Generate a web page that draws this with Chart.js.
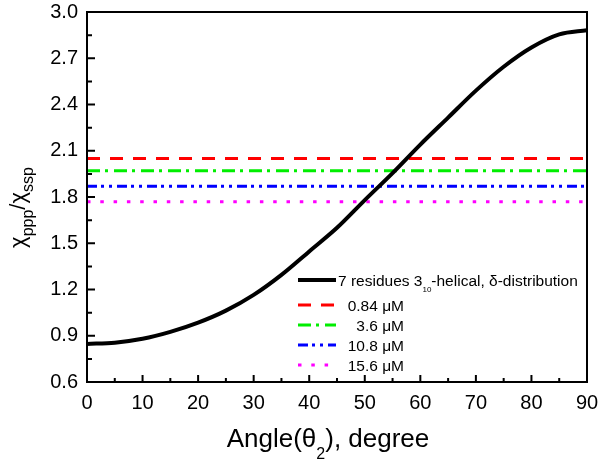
<!DOCTYPE html>
<html><head><meta charset="utf-8">
<script src="https://cdn.jsdelivr.net/npm/chart.js@4.4.0/dist/chart.umd.min.js"></script>
<style>html,body{margin:0;padding:0;background:#fff}#wrap{width:600px;height:464px;position:relative}</style>
</head><body><div id="wrap"><canvas id="c"></canvas></div>
<script>
// ---- data ----
const angles = [0,5,10,15,20,25,30,35,40,45,50,55,60,65,70,75,80,85,90];
const curveValues = [0.847,0.855,0.880,0.925,0.985,1.063,1.165,1.295,1.447,1.600,1.780,1.955,2.140,2.315,2.490,2.645,2.770,2.855,2.882];
const curveLabel = '7 residues 3_{10}-helical, δ-distribution';
const concLabels = ['0.84 μM','3.6 μM','10.8 μM','15.6 μM'];
const concLevels = [2.05,1.97,1.87,1.77];
const xTicks = [0,10,20,30,40,50,60,70,80,90];
const yTicks = [0.6,0.9,1.2,1.5,1.8,2.1,2.4,2.7,3.0];
const xTitle = 'Angle(θ_{2}), degree';
const yTitle = 'χ_{ppp}/χ_{ssp}';

// ---- styles ----
const FAM = '"Liberation Sans", Arial, sans-serif';
const concColors = ['#ff0000','#00ee00','#0000ff','#ff00ff'];
const concDashes = [[13,10],[13,5,3,6],[10,4,3,5,3,5],[3.5,9.8]];

function parseRich(s){
  const parts=[]; const re=/_\{([^}]*)\}/g; let last=0,m;
  while((m=re.exec(s))){ if(m.index>last) parts.push({t:s.slice(last,m.index),sub:false}); parts.push({t:m[1],sub:true}); last=re.lastIndex; }
  if(last<s.length) parts.push({t:s.slice(last),sub:false});
  return parts;
}
function richWidth(ctx,parts,size,subSize){
  let w=0; for(const p of parts){ ctx.font=(p.sub?subSize:size)+'px '+FAM; w+=ctx.measureText(p.t).width; } return w;
}
function drawRich(ctx,parts,x,y,size,subSize,subDy){
  let cx=x; for(const p of parts){ ctx.font=(p.sub?subSize:size)+'px '+FAM; ctx.fillText(p.t,cx,y+(p.sub?subDy:0)); cx+=ctx.measureText(p.t).width; }
}

const datasets = [{
  label: curveLabel,
  data: angles.map((a,i)=>({x:a,y:curveValues[i]})),
  borderColor:'#000', borderWidth:4, pointRadius:0, cubicInterpolationMode:'monotone', fill:false
}];
concLevels.forEach((lv,i)=>{
  datasets.push({
    label: concLabels[i],
    data: [{x:xTicks[0],y:lv},{x:xTicks[xTicks.length-1],y:lv}],
    borderColor: concColors[i], borderWidth:3, borderDash: concDashes[i], pointRadius:0, fill:false
  });
});

const decor = {
  id:'decor',
  afterDraw(chart){
    const ctx=chart.ctx, a=chart.chartArea, xs=chart.scales.x, ys=chart.scales.y;
    ctx.save();
    ctx.strokeStyle='#000'; ctx.lineWidth=2; ctx.setLineDash([]);
    ctx.beginPath();
    for(let i=0;i<xTicks.length;i++){
      const v=xTicks[i]; const px=xs.getPixelForValue(v);
      if(i>0 && i<xTicks.length-1){ ctx.moveTo(px,a.bottom); ctx.lineTo(px,a.bottom-7); }
      if(i<xTicks.length-1){ const mp=xs.getPixelForValue((v+xTicks[i+1])/2); ctx.moveTo(mp,a.bottom); ctx.lineTo(mp,a.bottom-4); }
    }
    for(let i=0;i<yTicks.length;i++){
      const v=yTicks[i]; const py=ys.getPixelForValue(v);
      if(i>0 && i<yTicks.length-1){ ctx.moveTo(a.left,py); ctx.lineTo(a.left+8,py); }
      if(i<yTicks.length-1){ const mp=ys.getPixelForValue((v+yTicks[i+1])/2); ctx.moveTo(a.left,mp); ctx.lineTo(a.left+5,mp); }
    }
    ctx.stroke();
    ctx.strokeRect(a.left,a.top,a.right-a.left,a.bottom-a.top);

    ctx.fillStyle='#000'; ctx.textBaseline='alphabetic'; ctx.textAlign='left';
    const xp=parseRich(xTitle); const xw=richWidth(ctx,xp,26,16);
    drawRich(ctx,xp,328-xw/2,447,26,16,12);
    const yp=parseRich(yTitle); const yw=richWidth(ctx,yp,22,16);
    ctx.save(); ctx.translate(25,207.5); ctx.rotate(-Math.PI/2);
    drawRich(ctx,yp,-yw/2,0,22,16,8);
    ctx.restore();

    const rows=[280,305,325,345,365];
    chart.data.datasets.forEach((ds,i)=>{
      const y=rows[i];
      ctx.save();
      ctx.strokeStyle=ds.borderColor; ctx.lineWidth=ds.borderWidth; ctx.setLineDash(ds.borderDash||[]);
      ctx.beginPath(); ctx.moveTo(298,y); ctx.lineTo(336,y); ctx.stroke();
      ctx.restore();
      const parts=parseRich(ds.label);
      if(i===0){ drawRich(ctx,parts,338,y+5.5,15.5,8,6); }
      else { const w=richWidth(ctx,parts,15.5,8); drawRich(ctx,parts,404-w,y+5.5,15.5,8,6); }
    });
    ctx.restore();
  }
};

new Chart(document.getElementById('c'),{
  type:'line',
  data:{datasets},
  options:{
    responsive:true, maintainAspectRatio:false, animation:false,
    layout:{padding:{left:0,top:12,right:13,bottom:0}},
    plugins:{legend:{display:false},tooltip:{enabled:false}},
    scales:{
      x:{type:'linear',min:0,max:90,
        afterBuildTicks:s=>{s.ticks=xTicks.map(v=>({value:v}));},
        afterFit:s=>{s.height=82; s.paddingLeft=0; s.paddingRight=0;},
        grid:{display:false,drawTicks:false}, border:{display:false},
        ticks:{font:{family:FAM,size:20},color:'#000',padding:9,maxRotation:0,autoSkip:false}},
      y:{type:'linear',min:0.6,max:3.0,
        afterBuildTicks:s=>{s.ticks=yTicks.map(v=>({value:v}));},
        afterFit:s=>{s.width=87; s.paddingTop=0; s.paddingBottom=0;},
        grid:{display:false,drawTicks:false}, border:{display:false},
        ticks:{font:{family:FAM,size:20},color:'#000',padding:9,autoSkip:false,callback:v=>Number(v).toFixed(1)}}
    }
  },
  plugins:[decor]
});
</script></body></html>
